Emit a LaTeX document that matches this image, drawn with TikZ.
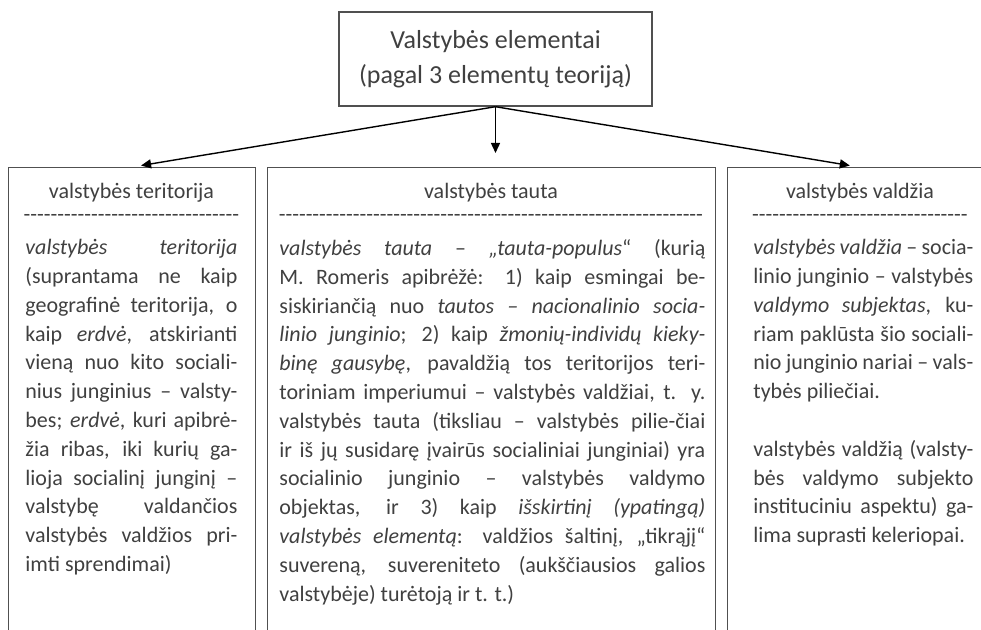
\documentclass[tikz,border=0pt]{standalone}
\usepackage{fontspec}
\setmainfont{Carlito}
\newfontfamily\dashfont{Carlito}[Ligatures=TeXOff]
\usetikzlibrary{arrows.meta}
\definecolor{inkgray}{HTML}{404040}
\definecolor{framegray}{HTML}{505050}
\setlength{\parindent}{0pt}
\tolerance=10000 \hbadness=10000
\hyphenpenalty=10000 \exhyphenpenalty=10000
\tikzset{
  frame/.style={draw=framegray, line width=0.7pt, anchor=north west, inner sep=0pt, minimum height=300pt},
  headtext/.style={text=inkgray, font=\fontsize{13pt}{17.5pt}\selectfont},
  boxtitle/.style={text=inkgray, inner sep=0pt, font=\fontsize{11pt}{14.4pt}\selectfont},
  dashline/.style={boxtitle, font=\fontsize{11pt}{14.4pt}\dashfont},
  bodytext/.style={text=inkgray, inner sep=0pt, anchor=north west, align=justify, font=\fontsize{11pt}{14.4pt}\selectfont},
  link/.style={-{Triangle[length=5pt,width=4.5pt]}, line width=0.7pt, shorten >=4.5pt}
}
\begin{document}
\begin{tikzpicture}[x=0.5pt,y=-0.5pt]
\clip (0,0) rectangle (981,630);
\node[draw=framegray, line width=0.7pt, minimum width=156.5pt, minimum height=47pt, align=center, headtext] (root) at (495.5,59)
  {Valstybės elementai\\(pagal 3 elementų teoriją)};
% three element boxes, cut off at the bottom
\node[frame, minimum width=123.5pt] (terBox) at (8,167) {};
\node[frame, minimum width=224pt] (tauBox) at (267,167) {};
\node[frame, minimum width=131pt] (valBox) at (727,167) {};
\draw[link] (root.south) -- (terBox.north);
\draw[link, shorten >=7pt] (root.south) -- (root.south |- tauBox.north);
\draw[link] (root.south) -- (valBox.north);
% titles
\node[boxtitle] (terTitle) at (131.5,193) {valstybės teritorija};
\node[boxtitle] (tauTitle) at (491,193) {valstybės tauta};
\node[boxtitle] (valTitle) at (860,193) {valstybės valdžia};
\node[dashline] (terDash) at (131.5,218) {--------------------------------};
\node[dashline] (tauDash) at (491,218) {---------------------------------------------------------------};
\node[dashline] (valDash) at (860,218) {--------------------------------};
% texts
\node[bodytext, text width=106pt] (terText) at (25,239) {%
\emph{valstybės teritorija}\linebreak
(suprantama ne kaip\linebreak
geografinė teritorija, o\linebreak
kaip \emph{erdvė}, atskirianti\linebreak
vieną nuo kito sociali-\linebreak
nius junginius – valsty-\linebreak
bes; \emph{erdvė}, kuri apibrė-\linebreak
žia ribas, iki kurių ga-\linebreak
lioja socialinį junginį –\linebreak
valstybę valdančios\linebreak
valstybės valdžios pri-\linebreak
imti sprendimai)};
\node[bodytext, text width=213pt] (tauText) at (279,239) {%
\emph{valstybės tauta} – \emph{„tauta-populus}“ (kurią\linebreak
M. Romeris apibrėžė: 1) kaip esmingai be-\linebreak
siskiriančią nuo \emph{tautos – nacionalinio socia-}\linebreak
\emph{linio junginio}; 2) kaip \emph{žmonių-individų kieky-}\linebreak
\emph{binę gausybę}, pavaldžią tos teritorijos teri-\linebreak
toriniam imperiumui – valstybės valdžiai, t. y.\linebreak
valstybės tauta (tiksliau – valstybės pilie-čiai\linebreak
ir iš jų susidarę įvairūs socialiniai junginiai) yra\linebreak
socialinio junginio – valstybės valdymo\linebreak
objektas, ir 3) kaip \emph{išskirtinį (ypatingą)}\linebreak
\emph{valstybės elementą}: valdžios šaltinį, „tikrąjį“\linebreak
suvereną, suvereniteto (aukščiausios galios\linebreak
valstybėje) turėtoją ir t. t.)};
\node[bodytext, text width=110pt] (valText) at (753,239) {%
\emph{valstybės valdžia} – socia-\linebreak
linio junginio – valstybės\linebreak
\emph{valdymo subjektas}, ku-\linebreak
riam paklūsta šio sociali-\linebreak
nio junginio nariai – vals-\linebreak
tybės piliečiai.\par
\vskip14.4pt
valstybės valdžią (valsty-\linebreak
bės valdymo subjekto\linebreak
instituciniu aspektu) ga-\linebreak
lima suprasti keleriopai.};
\end{tikzpicture}
\end{document}
